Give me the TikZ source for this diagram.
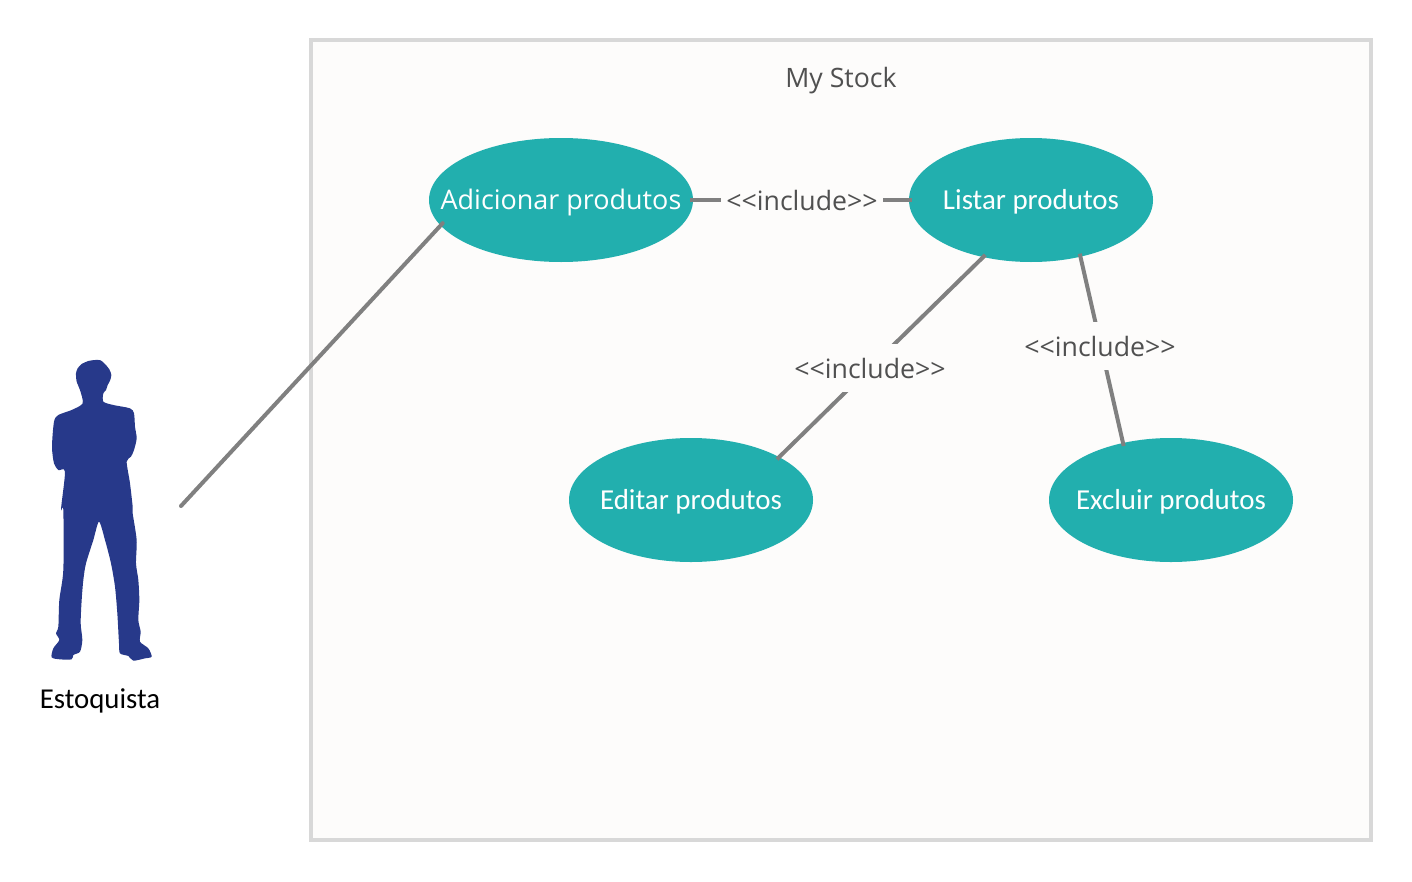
\documentclass[tikz,border=0pt]{standalone}
\usepackage{fontspec}
\setmainfont{Carlito}
\newfontfamily\opensans{Open Sans}
\usetikzlibrary{shapes.geometric}
\definecolor{teal1}{HTML}{22AFAE}
\definecolor{frameC}{HTML}{D8D8D8}
\definecolor{bgC}{HTML}{FDFCFB}
\definecolor{lineC}{HTML}{808080}
\definecolor{txtC}{HTML}{505050}
\definecolor{actorC}{HTML}{27398A}
\tikzset{
  usecase/.style={ellipse,fill=teal1,inner sep=0pt,minimum height=93pt},
  uctext/.style={text=white,inner sep=0pt,yshift=-1.7pt,font=\fontsize{#1}{24}\selectfont},
  link/.style={draw=lineC,line width=3pt,shorten >=-2.5pt,shorten <=-2.5pt},
  inclabel/.style={fill=bgC,text=txtC,inner sep=0pt,minimum width=121.5pt,minimum height=36pt,font=\opensans\fontsize{20}{24}\selectfont},
}
\begin{document}
\begin{tikzpicture}[x=0.75pt,y=-0.75pt]
\useasboundingbox (0,0) rectangle (1412,881);
\fill[white] (0,0) rectangle (1412,881);
\node[draw=frameC,fill=bgC,line width=3pt,minimum width=795pt,minimum height=600pt,inner sep=0pt] (sys) at (841,440) {};
\node[text=txtC,font=\opensans\fontsize{20}{24}\selectfont] (title) at (841,81) {My Stock};
\coordinate (free) at (181,506);
\node[usecase,minimum width=198pt] (uc1) at (561,200) {};
\node[usecase,minimum width=183pt] (uc2) at (1031,200) {};
\node[usecase,minimum width=183pt] (uc3) at (691,500) {};
\node[usecase,minimum width=183pt] (uc4) at (1171,500) {};
\draw[link,shorten >=0pt,line cap=round] (uc1.192.4) -- (free);
\draw[link] (uc1.east) -- (uc2.west);
\draw[link] (uc2.-130) -- (uc3.26);
\draw[link] (uc2.-49.4) -- (uc4.130.6);
\node[uctext=20,font=\opensans\fontsize{20.2}{24}\selectfont] (t1) at (uc1) {Adicionar produtos};
\node[uctext=21.7,yshift=0.7pt] (t2) at (uc2) {Listar produtos};
\node[uctext=21.7,yshift=0.7pt] (t3) at (uc3) {Editar produtos};
\node[uctext=21.7,yshift=0.7pt] (t4) at (uc4) {Excluir produtos};
\node[inclabel] (l1) at (802,200) {\raisebox{-0.7pt}{<{}<include>{}>}};
\node[inclabel] (l2) at (870,368) {\raisebox{-0.7pt}{<{}<include>{}>}};
\node[inclabel] (l3) at (1100,346) {\raisebox{-0.7pt}{<{}<include>{}>}};
\begin{scope}[shift={(30,350)},x=0.25pt,y=-0.25pt]
\fill[actorC] plot[smooth cycle,tension=0.45] coordinates {(158,160) (150,120) (140,95) (138,70) (143,55) (155,42) (175,33) (195,30) (212,31) (225,42) (238,58) (244,75) (240,92) (233,105) (228,120) (220,130) (220,155) (250,165) (300,175) (312,190) (315,230) (320,265) (312,300) (303,320) (290,335) (300,400) (308,470) (308,490)
 (320,570) (318,640) (325,690) (328,750) (325,810) (332,845) (330,875) (355,895) (365,920) (345,925) (310,932) (295,918) (270,910) (267,880) (262,790) (255,710) (243,640) (225,570) (207,515) (190,570) (168,640) (160,690) (155,750) (152,820) (157,870) (150,905) (130,915) (125,928) (90,928) (65,922) (70,895) (88,870) (78,850) (85,830) (88,750) (100,660) (100,480) (93,478) (105,365) (85,360) (72,340) (66,290) (72,215) (85,195) (125,180)};
\end{scope}
\node[text=black,font=\fontsize{21.6}{24}\selectfont] (actor) at (100,701) {Estoquista};
\end{tikzpicture}
\end{document}
